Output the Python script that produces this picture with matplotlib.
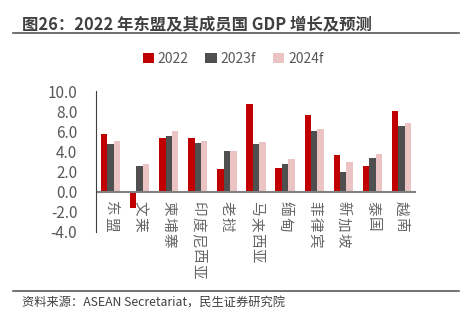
import matplotlib.pyplot as plt
import numpy as np

plt.rcParams['font.family'] = ['Noto Sans CJK SC', 'DejaVu Sans']

countries = ['东盟', '文莱', '柬埔寨', '印度尼西亚', '老挝', '马来西亚',
             '缅甸', '菲律宾', '新加坡', '泰国', '越南']
gdp_2022 = [5.7, -1.6, 5.3, 5.3, 2.3, 8.7, 2.4, 7.6, 3.6, 2.6, 8.0]
gdp_2023f = [4.7, 2.6, 5.5, 4.8, 4.0, 4.7, 2.8, 6.0, 2.0, 3.3, 6.5]
gdp_2024f = [5.0, 2.8, 6.0, 5.0, 4.0, 4.9, 3.2, 6.2, 3.0, 3.7, 6.8]
series = ['2022', '2023f', '2024f']
colors = ['#C00000', '#4F4F4F', '#EBC3C3']
yticks = np.arange(-4, 10.1, 2)

fig = plt.figure(figsize=(4.66, 3.27), dpi=100)
ax = fig.add_axes([96/466, 1-232/327, 320/466, 141/327])

x = np.arange(len(countries))
w = 0.22
for i, (vals, c, s) in enumerate(zip([gdp_2022, gdp_2023f, gdp_2024f], colors, series)):
    ax.bar(x + (i-1)*w, vals, w, color=c, label=s)

ax.set_xlim(-0.5, len(countries)-0.5)
ax.set_ylim(-4, 10)
ax.set_yticks(yticks)
ax.set_yticklabels(['%.1f' % v for v in yticks], fontsize=11, color='#595959')
ax.tick_params(axis='y', length=0, pad=13.5)
ax.set_xticks([])
for s in ['top', 'right', 'bottom']:
    ax.spines[s].set_visible(False)
ax.spines['left'].set_color('#404040')
ax.spines['left'].set_linewidth(0.8)
ax.axhline(0, color='#808080', lw=1.5)

# rotated labels, one glyph at a time for the wider letter spacing
for xi, name in zip(x, countries):
    for k, ch in enumerate(name):
        ax.annotate(ch, xy=(xi, 0), xytext=(0, -7 - k*11.2), textcoords='offset points',
                    rotation=-90, ha='center', va='top', fontsize=10.5,
                    color='#666666', annotation_clip=False)

fig.legend(loc='center', bbox_to_anchor=(0.5, 1-59/327), ncol=3, frameon=False,
           fontsize=10, handlelength=0.8, handleheight=0.8, columnspacing=1.2,
           handletextpad=0.3, labelcolor='#595959')

fig.text(22/466, 1-24/327, '图26：2022 年东盟及其成员国 GDP 增长及预测', fontsize=11.8,
         fontweight='bold', color='#404040', va='center')
fig.add_artist(plt.Line2D([13/466, 459/466], [1-33/327, 1-33/327], color='#595959', lw=1.2))
fig.add_artist(plt.Line2D([13/466, 459/466], [1-291/327, 1-291/327], color='#595959', lw=1.2))
fig.text(22/466, 1-303/327, '资料来源：ASEAN Secretariat，民生证券研究院', fontsize=8.8,
         color='#404040', va='center')

fig.savefig('out.png', dpi=100)
